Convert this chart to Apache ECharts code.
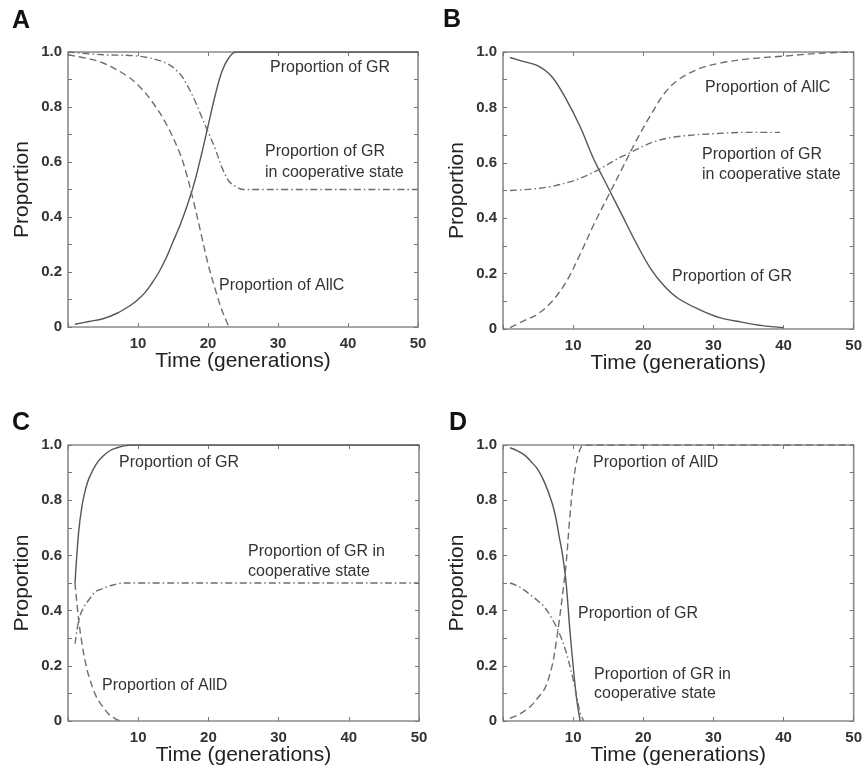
<!DOCTYPE html>
<html lang="en">
<head>
    <meta charset="UTF-8">
    <title>Proportion over time</title>
    <script src="https://cdn.jsdelivr.net/npm/echarts@6.0.0/dist/echarts.min.js"></script>
</head>
<body style="margin:0">
<div id="main" style="width: 865px;height:772px;"></div>
<script type="text/javascript">
    // panel A
    var aGR = [[1,0.01],[3,0.02],[5,0.03],[7,0.05],[9,0.08],[10,0.1],[11,0.125],[12,0.16],[13,0.2],[14,0.25],[15,0.31],[16,0.37],[17,0.44],[18,0.52],[19,0.62],[20,0.73],[21,0.84],[22,0.93],[23,0.98],[24,1.0],[50,1.0]];
    var aAllC = [[0,0.99],[3,0.975],[5,0.96],[8,0.92],[10,0.88],[12,0.82],[14,0.74],[16,0.63],[17,0.55],[18,0.45],[19,0.34],[20,0.23],[21,0.14],[22,0.06],[23,0.0]];
    var aCoop = [[0,1.0],[5,0.99],[10,0.985],[14,0.96],[16,0.92],[17,0.88],[18,0.83],[19,0.77],[20,0.71],[21,0.65],[22,0.58],[23,0.53],[24,0.51],[25,0.5],[50,0.5]];
    // panel B
    var bGR = [[1,0.98],[3,0.965],[5,0.95],[7,0.91],[9,0.83],[11,0.73],[13,0.61],[15,0.51],[17,0.41],[19,0.31],[21,0.22],[23,0.155],[25,0.11],[28,0.07],[31,0.04],[34,0.025],[37,0.012],[40,0.005]];
    var bAllC = [[1,0.005],[3,0.03],[5,0.055],[7,0.1],[9,0.17],[11,0.27],[13,0.38],[15,0.48],[17,0.58],[19,0.68],[21,0.77],[23,0.85],[25,0.9],[28,0.94],[31,0.96],[35,0.975],[40,0.985],[45,0.995],[50,1.0]];
    var bCoop = [[1,0.5],[4,0.505],[7,0.515],[10,0.535],[12,0.555],[14,0.58],[16,0.61],[18,0.635],[20,0.66],[22,0.68],[25,0.695],[30,0.705],[35,0.71],[39.5,0.71]];
    // panel C
    var cGR = [[1,0.5],[1.5,0.68],[2,0.78],[2.5,0.84],[3,0.88],[4,0.93],[5,0.96],[6,0.98],[7,0.99],[8,0.997],[9,1.0],[50,1.0]];
    var cAllD = [[1,0.5],[1.5,0.37],[2,0.28],[2.5,0.21],[3,0.16],[4,0.09],[5,0.05],[6,0.02],[7,0.005],[7.5,0.0]];
    var cCoop = [[1,0.28],[1.5,0.36],[2,0.4],[3,0.44],[4,0.47],[5,0.48],[6,0.49],[8,0.5],[50,0.5]];
    // panel D
    var dGR = [[1,0.99],[2,0.98],[3,0.965],[4,0.94],[5,0.91],[6,0.86],[7,0.79],[7.5,0.74],[8,0.67],[8.5,0.6],[9,0.5],[9.5,0.34],[10,0.2],[10.5,0.08],[11,0.0]];
    var dAllD = [[1,0.01],[2,0.02],[3,0.035],[4,0.055],[5,0.085],[6,0.12],[7,0.2],[7.5,0.27],[8,0.36],[8.5,0.46],[9,0.57],[9.5,0.73],[10,0.86],[10.5,0.94],[11,0.985],[11.5,1.0],[50,1.0]];
    var dCoop = [[1,0.5],[2,0.49],[3,0.475],[4,0.455],[5,0.435],[6,0.41],[7,0.37],[8,0.32],[9,0.25],[10,0.15],[10.5,0.09],[11,0.03],[11.5,0.0]];

    var panels = [
        {letter:'A', grid:{left:68, top:52, width:350, height:275}, lines:[aGR, aAllC, aCoop],
         notes:[[270,68,'Proportion of GR'],[265,152,'Proportion of GR'],[265,173,'in cooperative state'],[219,286,'Proportion of AllC']]},
        {letter:'B', grid:{left:503, top:52, width:352, height:277}, lines:[bGR, bAllC, bCoop],
         notes:[[705,88,'Proportion of AllC'],[702,155,'Proportion of GR'],[702,175,'in cooperative state'],[672,277,'Proportion of GR']]},
        {letter:'C', grid:{left:68, top:445, width:351, height:276}, lines:[cGR, cAllD, cCoop],
         notes:[[119,463,'Proportion of GR'],[248,552,'Proportion of GR in'],[248,572,'cooperative state'],[102,686,'Proportion of AllD']]},
        {letter:'D', grid:{left:503, top:445, width:353, height:276}, lines:[dGR, dAllD, dCoop],
         notes:[[593,463,'Proportion of AllD'],[578,614,'Proportion of GR'],[594,675,'Proportion of GR in'],[594,694,'cooperative state']]}
    ];
    var letterPos = [[12,21],[443,20],[12,423],[449,423]];

    var FONT = 'Liberation Sans, Arial, sans-serif';
    var lineStyles = [
        {color:'#555', width:1.4, type:'solid'},
        {color:'#6e6e6e', width:1.4, type:[7,4]},
        {color:'#6e6e6e', width:1.4, type:[7,3,1.5,3]}
    ];

    var grids = [], xAxes = [], yAxes = [], series = [], graphics = [];
    panels.forEach(function (p, i) {
        grids.push({left:p.grid.left, top:p.grid.top, width:p.grid.width, height:p.grid.height,
            show:true, borderColor:'#8a8a8a', borderWidth:1.6, backgroundColor:'#fff'});
        var tick = {show:true, inside:true, length:4, lineStyle:{color:'#777'}};
        var noLine = {show:false, onZero:false};
        xAxes.push({gridIndex:i, type:'value', min:0, max:50, interval:10, position:'bottom',
            axisLine:noLine, splitLine:{show:false}, axisTick:tick,
            axisLabel:{margin:9, color:'#333', fontSize:15, fontWeight:'bold', fontFamily:FONT,
                formatter:function (v) { return v === 0 ? '' : String(v); }},
            name:'Time (generations)', nameLocation:'middle', nameGap:24, nameMoveOverlap:false,
            nameTextStyle:{color:'#222', fontSize:21, fontFamily:FONT}});
        xAxes.push({gridIndex:i, type:'value', min:0, max:50, interval:10, position:'top',
            axisLine:noLine, splitLine:{show:false}, axisTick:tick, axisLabel:{show:false}});
        yAxes.push({gridIndex:i, type:'value', min:0, max:1, interval:0.1, position:'left',
            axisLine:noLine, splitLine:{show:false}, axisTick:tick,
            axisLabel:{margin:6, color:'#333', fontSize:15, fontWeight:'bold', fontFamily:FONT,
                formatter:function (v) {
                    var k = Math.round(v * 10);
                    if (k % 2 !== 0) return '';
                    return k === 0 ? '0' : (k / 10).toFixed(1);
                }},
            name:'Proportion', nameLocation:'middle', nameGap:35, nameMoveOverlap:false,
            nameTextStyle:{color:'#222', fontSize:21, fontFamily:FONT}});
        yAxes.push({gridIndex:i, type:'value', min:0, max:1, interval:0.1, position:'right',
            axisLine:noLine, splitLine:{show:false}, axisTick:tick, axisLabel:{show:false}});
        p.lines.forEach(function (d, j) {
            series.push({type:'line', xAxisIndex:i * 2, yAxisIndex:i * 2, data:d,
                showSymbol:false, smooth:0.35, lineStyle:lineStyles[j], z:3, silent:true});
        });
        graphics.push({type:'text', x:letterPos[i][0], y:letterPos[i][1],
            style:{text:p.letter, font:'bold 25px ' + FONT, fill:'#111', verticalAlign:'middle'}});
        p.notes.forEach(function (n) {
            graphics.push({type:'text', x:n[0], y:n[1], z:10,
                style:{text:n[2], font:'16px ' + FONT, fill:'#333', verticalAlign:'middle'}});
        });
    });

    var myChart = echarts.init(document.getElementById('main'));
    myChart.setOption({
        backgroundColor:'#fff',
        animation:false,
        grid:grids,
        xAxis:xAxes,
        yAxis:yAxes,
        series:series,
        graphic:graphics
    });
</script>
</body>
</html>
